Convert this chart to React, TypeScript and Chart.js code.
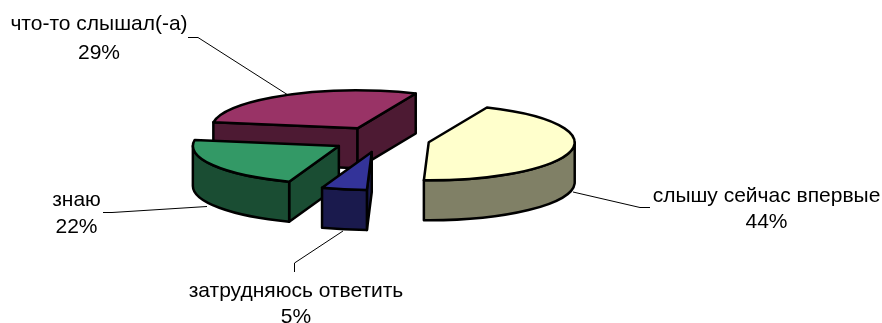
import { useEffect, useRef } from "react";
import { Chart, registerables } from "chart.js";

Chart.register(...registerables);

const categories = ["слышу сейчас впервые", "затрудняюсь ответить", "знаю", "что-то слышал(-а)"];
const shares = [44, 5, 22, 29];
const topColors = ["#FFFFCC", "#333399", "#339966", "#993366"];
const wallColors = ["#808066", "#1A1A4D", "#1A4D33", "#4D1A33"];
const paintOrder = [3, 2, 1, 0];
const labelCenters = [
  [766.5, 201.5, 227.5],
  [296, 297, 323],
  [76.5, 206, 233],
  [99, 30, 58.5],
];
const leaders = [
  [[573, 192], [640, 207.5], [650, 207.5]],
  [[343, 231], [294.5, 263], [294.5, 272]],
  [[207, 206.5], [112, 212.5], [103, 212.5]],
  [[288, 95], [198, 37.5], [188, 37.5]],
];

const view = { cx: 381, cy: 139.5, rx: 146, ry: 38, depth: 40, explode: 0.335 };

const pie3d = {
  id: "pie3d",
  beforeDatasetsDraw(chart: any) {
    const ctx = chart.ctx as CanvasRenderingContext2D;
    const arcs = chart.getDatasetMeta(0).data as any[];
    ctx.save();

    ctx.lineWidth = 1;
    ctx.lineJoin = "miter";
    ctx.strokeStyle = "#000";
    ctx.fillStyle = "#000";
    ctx.font = '21px "Liberation Sans", Arial, sans-serif';
    ctx.textAlign = "center";
    ctx.textBaseline = "alphabetic";
    categories.forEach((name, i) => {
      ctx.beginPath();
      leaders[i].forEach(([x, y], k) => (k ? ctx.lineTo(x, y) : ctx.moveTo(x, y)));
      ctx.stroke();
      const [x, y1, y2] = labelCenters[i];
      ctx.fillText(name, x, y1);
      ctx.fillText(`${shares[i]}%`, x, y2);
    });

    ctx.lineJoin = "round";
    ctx.lineWidth = 2.5;

    for (const i of paintOrder) {
      const a0 = arcs[i].startAngle as number;
      const a1 = arcs[i].endAngle as number;
      const mid = (a0 + a1) / 2;
      const ox = view.cx + view.explode * view.rx * Math.cos(mid);
      const oy = view.cy + view.explode * view.ry * Math.sin(mid);
      const px = (a: number) => ox + view.rx * Math.cos(a);
      const py = (a: number) => oy + view.ry * Math.sin(a);

      const face = (fill: string) => {
        ctx.fillStyle = fill;
        ctx.fill();
        ctx.stroke();
      };

      const edgeWall = (a: number) => {
        ctx.beginPath();
        ctx.moveTo(ox, oy);
        ctx.lineTo(px(a), py(a));
        ctx.lineTo(px(a), py(a) + view.depth);
        ctx.lineTo(ox, oy + view.depth);
        ctx.closePath();
        face(wallColors[i]);
      };
      if (-Math.cos(a0) > 0) edgeWall(a0);
      if (Math.cos(a1) > 0) edgeWall(a1);

      // outer curved wall: the part of the rim on the near half of the ellipse
      for (let k = -1; k <= 1; k++) {
        const lo = Math.max(a0, k * 2 * Math.PI);
        const hi = Math.min(a1, k * 2 * Math.PI + Math.PI);
        if (hi <= lo) continue;
        ctx.beginPath();
        ctx.ellipse(ox, oy, view.rx, view.ry, 0, lo, hi);
        ctx.lineTo(px(hi), py(hi) + view.depth);
        ctx.ellipse(ox, oy + view.depth, view.rx, view.ry, 0, hi, lo, true);
        ctx.closePath();
        face(wallColors[i]);
      }

      ctx.beginPath();
      ctx.moveTo(ox, oy);
      ctx.ellipse(ox, oy, view.rx, view.ry, 0, a0, a1);
      ctx.closePath();
      face(topColors[i]);
    }

    ctx.restore();
    return false;
  },
};

export default function App() {
  const ref = useRef<HTMLCanvasElement>(null);
  useEffect(() => {
    document.body.style.margin = "0";
    document.body.style.background = "#fff";
    const chart = new Chart(ref.current!, {
      type: "pie",
      data: {
        labels: categories,
        datasets: [{ data: shares, backgroundColor: topColors, borderColor: "#000" }],
      },
      options: {
        responsive: false,
        animation: false,
        rotation: 23.5,
        events: [],
        plugins: { legend: { display: false }, tooltip: { enabled: false } },
      },
      plugins: [pie3d],
    });
    return () => chart.destroy();
  }, []);
  return <canvas ref={ref} width={882} height={323} style={{ display: "block" }} />;
}
